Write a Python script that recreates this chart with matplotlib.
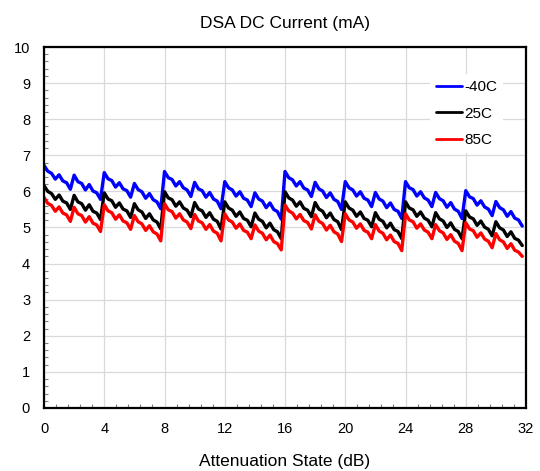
import matplotlib
matplotlib.use('Agg')
import matplotlib.pyplot as plt
import numpy as np
from matplotlib.ticker import MultipleLocator

######################################################
# Data (0.25 dB steps)
######################################################

STEP = 0.25

current_m40 = [
    6.72, 6.56, 6.50, 6.34, 6.46, 6.29, 6.24, 6.06, 6.45, 6.27, 6.22, 6.04, 6.19, 6.01, 5.96, 5.78,
    6.52, 6.35, 6.30, 6.12, 6.24, 6.07, 6.02, 5.84, 6.22, 6.05, 5.99, 5.81, 5.94, 5.77, 5.71, 5.52,
    6.55, 6.38, 6.33, 6.15, 6.27, 6.10, 6.04, 5.86, 6.25, 6.07, 6.02, 5.84, 5.97, 5.79, 5.73, 5.52,
    6.27, 6.10, 6.04, 5.87, 5.99, 5.81, 5.76, 5.58, 5.96, 5.79, 5.73, 5.55, 5.68, 5.50, 5.44, 5.23,
    6.55, 6.38, 6.32, 6.15, 6.27, 6.09, 6.04, 5.86, 6.25, 6.07, 6.01, 5.83, 5.96, 5.78, 5.72, 5.50,
    6.27, 6.10, 6.04, 5.87, 5.99, 5.81, 5.76, 5.58, 5.97, 5.79, 5.73, 5.55, 5.68, 5.50, 5.45, 5.25,
    6.27, 6.10, 6.05, 5.87, 5.99, 5.82, 5.76, 5.58, 5.97, 5.80, 5.74, 5.56, 5.69, 5.51, 5.45, 5.25,
    6.02, 5.85, 5.80, 5.62, 5.74, 5.57, 5.51, 5.33, 5.72, 5.55, 5.49, 5.31, 5.44, 5.26, 5.21, 5.04,
]

current_25 = [
    6.16, 6.00, 5.94, 5.78, 5.90, 5.73, 5.68, 5.50, 5.89, 5.71, 5.66, 5.48, 5.63, 5.45, 5.40, 5.22,
    5.96, 5.79, 5.74, 5.56, 5.68, 5.51, 5.46, 5.28, 5.66, 5.49, 5.43, 5.25, 5.38, 5.21, 5.15, 4.96,
    5.99, 5.82, 5.77, 5.59, 5.71, 5.54, 5.48, 5.30, 5.69, 5.51, 5.46, 5.28, 5.41, 5.23, 5.17, 4.96,
    5.71, 5.54, 5.48, 5.31, 5.43, 5.25, 5.20, 5.02, 5.40, 5.23, 5.17, 4.99, 5.12, 4.94, 4.88, 4.69,
    5.99, 5.82, 5.76, 5.59, 5.71, 5.53, 5.48, 5.30, 5.69, 5.51, 5.45, 5.27, 5.40, 5.22, 5.16, 4.94,
    5.71, 5.54, 5.48, 5.31, 5.43, 5.25, 5.20, 5.02, 5.41, 5.23, 5.17, 4.99, 5.12, 4.94, 4.89, 4.69,
    5.71, 5.54, 5.49, 5.31, 5.43, 5.26, 5.20, 5.02, 5.41, 5.24, 5.18, 5.00, 5.13, 4.95, 4.89, 4.69,
    5.46, 5.29, 5.24, 5.06, 5.18, 5.01, 4.95, 4.77, 5.16, 4.99, 4.93, 4.75, 4.88, 4.70, 4.65, 4.50,
]

current_85 = [
    5.83, 5.67, 5.61, 5.45, 5.57, 5.40, 5.35, 5.17, 5.56, 5.38, 5.33, 5.15, 5.30, 5.12, 5.07, 4.89,
    5.63, 5.46, 5.41, 5.23, 5.35, 5.18, 5.13, 4.95, 5.33, 5.16, 5.10, 4.92, 5.05, 4.88, 4.82, 4.63,
    5.66, 5.49, 5.44, 5.26, 5.38, 5.21, 5.15, 4.97, 5.36, 5.18, 5.13, 4.95, 5.08, 4.90, 4.84, 4.63,
    5.38, 5.21, 5.15, 4.98, 5.10, 4.92, 4.87, 4.69, 5.07, 4.90, 4.84, 4.66, 4.79, 4.61, 4.55, 4.38,
    5.62, 5.46, 5.40, 5.24, 5.36, 5.19, 5.14, 4.96, 5.35, 5.17, 5.11, 4.93, 5.06, 4.88, 4.82, 4.61,
    5.38, 5.21, 5.15, 4.98, 5.10, 4.92, 4.87, 4.69, 5.08, 4.90, 4.84, 4.66, 4.79, 4.61, 4.56, 4.36,
    5.38, 5.21, 5.16, 4.98, 5.10, 4.93, 4.87, 4.69, 5.08, 4.91, 4.85, 4.67, 4.80, 4.62, 4.56, 4.36,
    5.13, 4.96, 4.91, 4.73, 4.85, 4.68, 4.62, 4.44, 4.83, 4.66, 4.60, 4.42, 4.55, 4.37, 4.32, 4.20,
]

series = [('-40C', current_m40, '#0000ff'),
          ('25C', current_25, '#000000'),
          ('85C', current_85, '#ff0000')]

######################################################
# Plot
######################################################

plt.rcParams['font.family'] = ['Liberation Sans', 'DejaVu Sans']

fig = plt.figure(figsize=(5.4, 4.71), dpi=100)
ax = fig.add_axes([0.0815, 0.1338, 0.8926, 0.7664])

att = np.arange(len(current_m40)) * STEP
for name, vals, col in series:
    ax.plot(att, vals, color=col, lw=2.4, label=name,
            solid_joinstyle='round', solid_capstyle='round')

ax.set_xlim(0, 32)
ax.set_ylim(0, 10)
ax.xaxis.set_major_locator(MultipleLocator(4))
ax.xaxis.set_minor_locator(MultipleLocator(0.8))
ax.yaxis.set_major_locator(MultipleLocator(1))
ax.yaxis.set_minor_locator(MultipleLocator(0.2))
ax.grid(True, which='major', color='#d9d9d9', lw=0.9)
ax.set_axisbelow(True)

ax.tick_params(which='major', direction='in', length=0, labelsize=10.5, pad=10)
ax.tick_params(axis='y', which='major', pad=10)
ax.tick_params(which='minor', direction='in', length=3, width=0.8, color='#808080')
for sp in ax.spines.values():
    sp.set_linewidth(1.6)
    sp.set_color('black')

ax.set_title('DSA DC Current (mA)', fontsize=12.5, pad=14)
ax.set_xlabel('Attenuation State (dB)', fontsize=12.5, labelpad=13)

leg = ax.legend(loc='upper left', bbox_to_anchor=(0.80, 0.925), borderaxespad=0,
                frameon=True, fancybox=False, edgecolor='none', facecolor='white',
                framealpha=1, fontsize=11, handlelength=1.75, handletextpad=0.1,
                labelspacing=0.82, borderpad=0.4)
for line in leg.get_lines():
    line.set_linewidth(2.0)

fig.savefig('out.png', dpi=100)
